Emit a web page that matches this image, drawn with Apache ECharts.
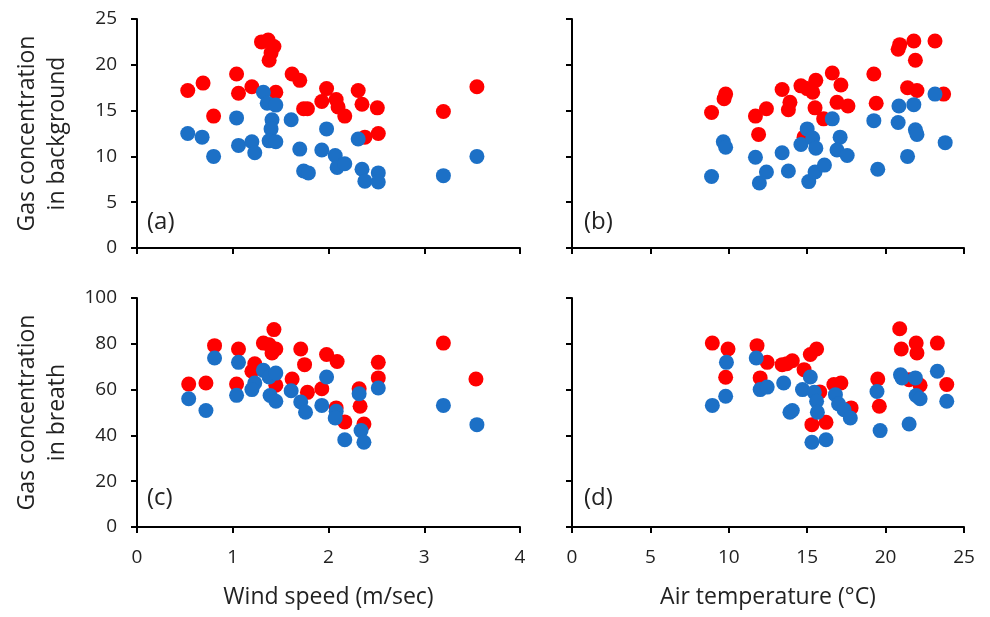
<!DOCTYPE html>
<html>
<head>
<meta charset="utf-8">
<script src="https://cdn.jsdelivr.net/npm/echarts@6/dist/echarts.min.js"></script>
</head>
<body style="margin:0">
<div id="container" style="width:990px;height:617px"></div>
<script>
// [x, y] pairs
var windBgRed = [[0.53,17.2],[0.69,18.0],[0.80,14.4],[1.04,19.0],[1.06,16.9],[1.20,17.6],[1.30,22.5],[1.37,22.7],[1.43,22.0],[1.40,21.3],[1.38,20.5],[1.45,17.0],[1.62,19.0],[1.70,18.3],[1.74,15.2],[1.78,15.2],[1.93,16.0],[1.98,17.4],[2.08,16.2],[2.10,15.4],[2.17,14.4],[2.31,17.2],[2.35,15.7],[2.38,12.1],[2.51,15.3],[2.52,12.5],[3.20,14.9],[3.55,17.6]];
var windBgBlue = [[0.53,12.5],[0.68,12.1],[0.80,10.0],[1.04,14.2],[1.06,11.2],[1.20,11.6],[1.23,10.4],[1.32,17.0],[1.36,15.8],[1.45,15.6],[1.41,14.0],[1.40,13.0],[1.38,11.7],[1.45,11.6],[1.61,14.0],[1.70,10.8],[1.74,8.4],[1.79,8.2],[1.93,10.7],[1.98,13.0],[2.07,10.1],[2.09,8.8],[2.17,9.2],[2.31,11.9],[2.35,8.6],[2.38,7.3],[2.52,8.2],[2.52,7.2],[3.20,7.9],[3.55,10.0]];
var tempBgRed = [[8.9,14.8],[9.7,16.3],[9.8,16.8],[11.7,14.4],[12.4,15.2],[11.9,12.4],[13.4,17.3],[13.9,15.9],[13.8,15.1],[14.6,17.7],[15.0,17.4],[15.35,17.0],[15.55,18.3],[15.5,15.3],[16.05,14.1],[14.8,12.1],[16.6,19.1],[17.15,17.8],[16.9,15.9],[17.6,15.5],[19.25,19.0],[19.4,15.8],[20.8,21.7],[20.9,22.2],[21.8,22.6],[21.9,20.5],[21.4,17.5],[22.0,17.2],[23.15,22.6],[23.7,16.8]];
var tempBgBlue = [[8.9,7.8],[9.65,11.6],[9.8,11.0],[11.7,9.9],[11.95,7.1],[12.4,8.3],[13.4,10.4],[13.8,8.4],[14.6,11.3],[15.0,13.0],[15.35,12.0],[15.55,10.9],[15.1,7.25],[15.5,8.3],[16.1,9.05],[16.6,14.1],[17.1,12.1],[16.9,10.7],[17.55,10.1],[19.25,13.9],[19.5,8.6],[20.8,13.7],[20.85,15.5],[21.4,10.0],[21.8,15.65],[21.9,12.9],[22.0,12.4],[23.15,16.8],[23.8,11.5]];
var windBrRed = [[0.54,62.4],[0.72,62.9],[0.81,79.2],[1.06,77.7],[1.04,62.4],[1.23,71.3],[1.20,68.0],[1.32,80.3],[1.38,79.6],[1.43,86.2],[1.45,77.7],[1.41,76.0],[1.45,61.9],[1.62,64.6],[1.71,77.7],[1.75,70.9],[1.78,58.8],[1.93,60.4],[1.98,75.3],[2.09,72.3],[2.08,52.0],[2.17,45.9],[2.32,60.4],[2.33,52.7],[2.37,45.0],[2.52,71.9],[2.52,65.1],[3.20,80.3],[3.54,64.6]];
var windBrBlue = [[0.54,56.0],[0.72,50.9],[0.81,73.8],[1.06,71.9],[1.04,57.5],[1.23,62.9],[1.20,60.0],[1.32,68.4],[1.38,65.5],[1.45,67.2],[1.39,57.4],[1.45,54.9],[1.61,59.5],[1.71,54.6],[1.76,50.1],[1.93,53.1],[1.98,65.5],[2.08,50.5],[2.07,47.6],[2.17,38.1],[2.32,58.2],[2.34,42.1],[2.37,37.0],[2.52,60.7],[3.20,53.1],[3.55,44.7]];
var tempBrRed = [[8.95,80.3],[9.95,77.7],[9.8,65.4],[11.8,79.2],[12.45,71.9],[12.0,65.1],[13.4,70.9],[13.7,71.3],[14.05,72.6],[14.8,68.7],[15.2,75.3],[15.6,77.7],[15.8,59.0],[15.3,44.7],[16.2,45.7],[16.7,62.2],[17.15,62.9],[17.8,52.0],[19.5,64.6],[19.6,52.7],[20.9,86.6],[21.0,77.7],[21.95,80.3],[22.0,76.0],[21.5,64.3],[22.2,61.9],[23.3,80.3],[23.9,62.2]];
var tempBrBlue = [[8.95,53.1],[9.8,57.1],[9.85,71.9],[11.75,73.8],[12.0,60.0],[12.45,61.1],[13.5,62.9],[13.9,50.1],[14.05,50.9],[14.7,60.0],[15.2,65.5],[15.45,58.8],[15.6,54.9],[15.65,50.1],[15.3,37.0],[16.2,38.1],[16.8,57.8],[17.0,53.7],[17.35,51.2],[17.75,47.6],[19.45,59.2],[19.65,42.1],[20.95,66.5],[21.05,65.1],[21.9,65.1],[21.95,57.4],[22.2,56.0],[21.5,45.0],[23.3,68.0],[23.9,54.9]];

var panelLabels = ['(a)', '(b)', '(c)', '(d)'];
var xTitles = ['Wind speed (m/sec)', 'Air temperature (°C)'];
var yTitles = ['Gas concentration\nin background', 'Gas concentration\nin breath'];

var RED = '#ff0000', BLUE = '#1c70c6';
var FONT = 'Open Sans';
var TXT = '#222';

var chart = echarts.init(document.getElementById('container'));

function xAx(grid, max, interval, showLabel, name) {
    return {
        gridIndex: grid, type: 'value', min: 0, max: max, interval: interval,
        name: name || '', nameLocation: 'middle', nameGap: 59,
        nameTextStyle: {fontFamily: FONT, fontSize: 23, color: TXT},
        axisLine: {lineStyle: {color: '#000', width: 2}},
        axisTick: {show: true, length: 6, lineStyle: {color: '#000', width: 2}},
        axisLabel: {show: showLabel, margin: 21, fontFamily: FONT, fontSize: 19, color: TXT},
        splitLine: {show: false}
    };
}
function yAx(grid, max, interval, showLabel, name) {
    return {
        gridIndex: grid, type: 'value', min: 0, max: max, interval: interval,
        name: name || '', nameLocation: 'middle', nameGap: 65,
        nameTextStyle: {fontFamily: FONT, fontSize: 23, color: TXT, lineHeight: 30},
        axisLine: {show: true, lineStyle: {color: '#000', width: 2}},
        axisTick: {show: true, length: 6, lineStyle: {color: '#000', width: 2}},
        axisLabel: {show: showLabel, margin: 20, fontFamily: FONT, fontSize: 19, color: TXT},
        splitLine: {show: false}
    };
}
function sc(i, data, color) {
    return {
        type: 'scatter', xAxisIndex: i, yAxisIndex: i, data: data,
        symbolSize: 15, itemStyle: {color: color, opacity: 1}, silent: true
    };
}

var option = {
    animation: false,
    backgroundColor: '#fff',
    grid: [
        {left: 137, top: 19, width: 383, height: 229},
        {left: 572, top: 19, width: 392, height: 229},
        {left: 137, top: 298, width: 383, height: 229},
        {left: 572, top: 298, width: 392, height: 229}
    ],
    xAxis: [
        xAx(0, 4, 1, false), xAx(1, 25, 5, false),
        xAx(2, 4, 1, true, xTitles[0]), xAx(3, 25, 5, true, xTitles[1])
    ],
    yAxis: [
        yAx(0, 25, 5, true, yTitles[0]), yAx(1, 25, 5, false),
        yAx(2, 100, 20, true, yTitles[1]), yAx(3, 100, 20, false)
    ],
    title: [
        {text: panelLabels[0], left: 147, top: 210},
        {text: panelLabels[1], left: 584, top: 210},
        {text: panelLabels[2], left: 147, top: 486},
        {text: panelLabels[3], left: 584, top: 486}
    ].map(function (t) {
        t.padding = 0;
        t.textStyle = {fontFamily: FONT, fontSize: 24, fontWeight: 'normal', color: TXT};
        return t;
    }),
    series: [
        sc(0, windBgRed, RED), sc(0, windBgBlue, BLUE),
        sc(1, tempBgRed, RED), sc(1, tempBgBlue, BLUE),
        sc(2, windBrRed, RED), sc(2, windBrBlue, BLUE),
        sc(3, tempBrRed, RED), sc(3, tempBrBlue, BLUE)
    ]
};
chart.setOption(option);
</script>
</body>
</html>
